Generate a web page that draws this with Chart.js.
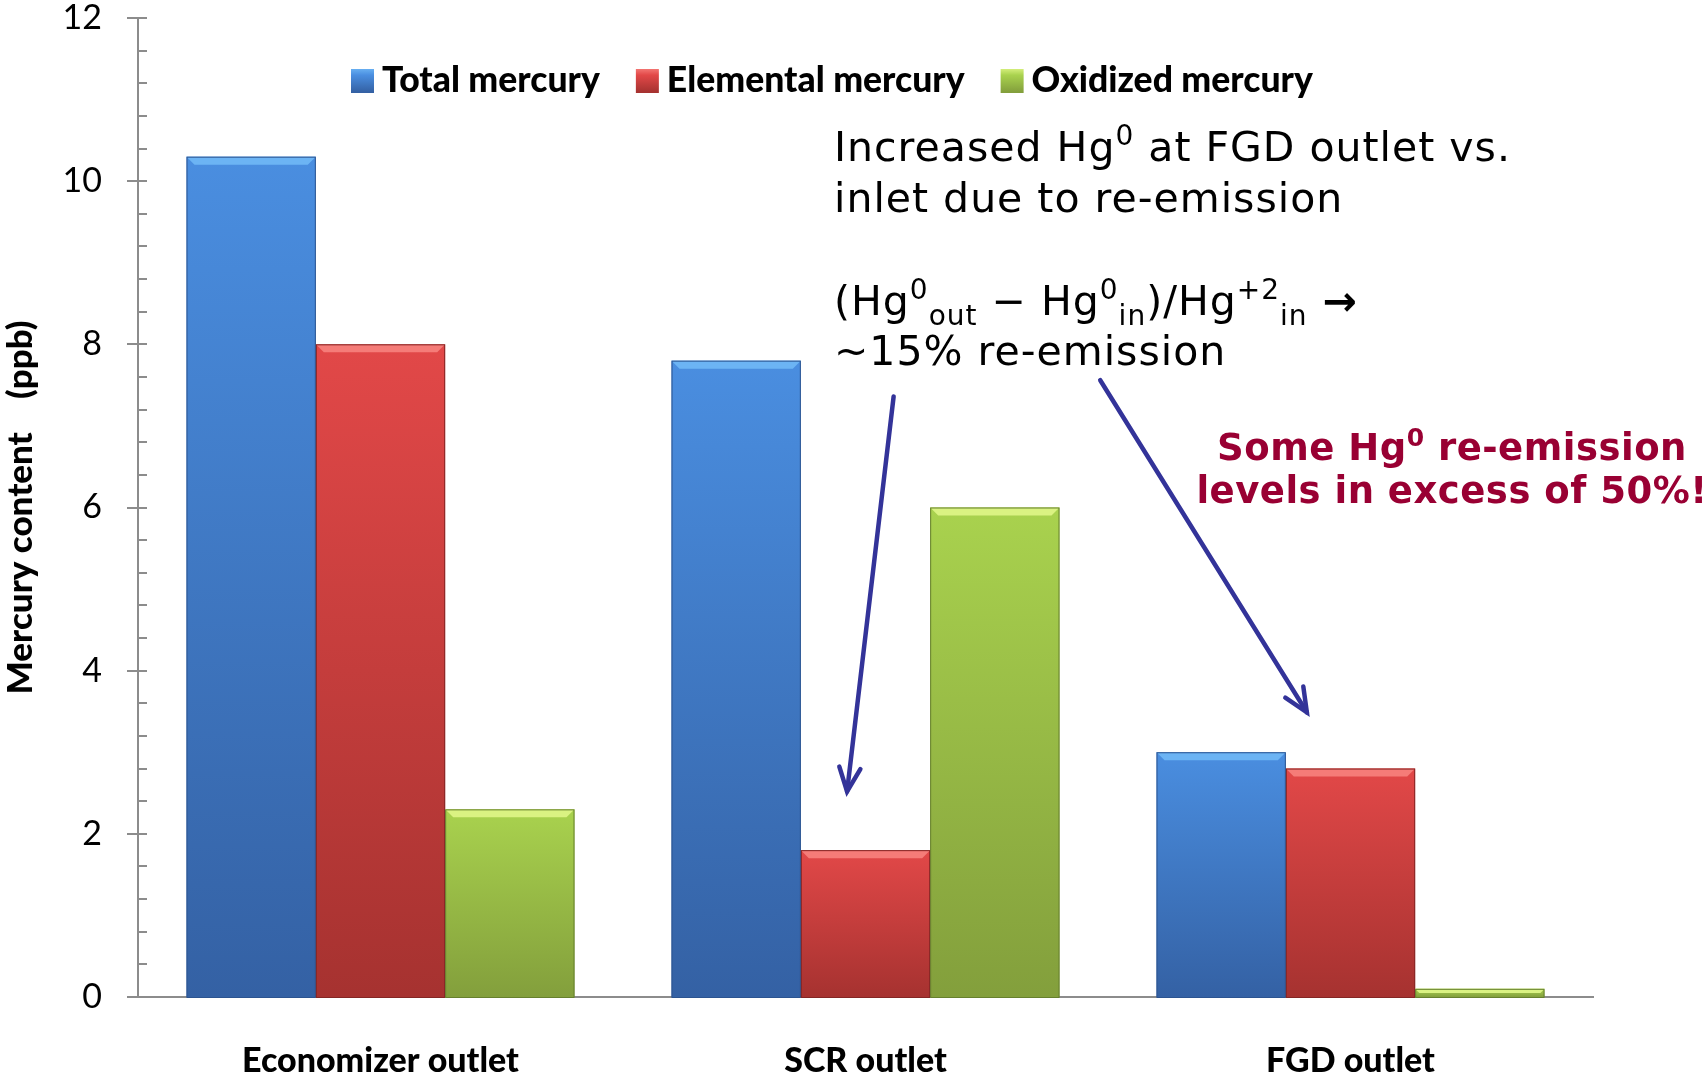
<!DOCTYPE html>
<html>
<head>
<meta charset="utf-8">
<title>Mercury content by location</title>
<script src="https://cdn.jsdelivr.net/npm/chart.js@4.4.0/dist/chart.umd.min.js"></script>
<style>
  html, body { margin: 0; padding: 0; background: #fff; }
  #wrap { width: 1705px; height: 1078px; }
</style>
</head>
<body>
<div id="wrap"><canvas id="chart" width="1705" height="1078"></canvas></div>
<script>
// ---------------------------------------------------------------------------
// Data (ppb)
// ---------------------------------------------------------------------------

const categories = ["Economizer outlet", "SCR outlet", "FGD outlet"];
const totalMercury = [10.3, 7.8, 3.0];
const elementalMercury = [8.0, 1.8, 2.8];
const oxidizedMercury = [2.3, 6.0, 0.1];
const seriesNames = ["Total mercury", "Elemental mercury", "Oxidized mercury"];
const yTicks = { min: 0, max: 12, step: 2, minorStep: 0.4 };

// colours per series: top of bar, bottom of bar, bevel highlight, edge
const palette = [
  { top: "#4a8ee0", bottom: "#3461a4", light: "#6cb4f4", edge: "#2c5490" },
  { top: "#e24848", bottom: "#a63230", light: "#f57c78", edge: "#842624" },
  { top: "#a9d24e", bottom: "#839f3c", light: "#daf282", edge: "#66802e" },
];

const AXIS_GREY = "#8c8c8c";
const NOTE_BLUE = "#333399";
const NOTE_RED = "#990033";

// ---------------------------------------------------------------------------
// Bar fill: vertical gradient per bar, computed from the bar's own value
// ---------------------------------------------------------------------------

function barGradient(seriesIndex) {
  return (ctx) => {
    const chart = ctx.chart;
    const yScale = chart.scales.y;
    const c = palette[seriesIndex];
    if (!yScale || !ctx.parsed) return c.top;
    const top = yScale.getPixelForValue(ctx.parsed.y);
    const bottom = yScale.getPixelForValue(0);
    if (!isFinite(top) || !isFinite(bottom) || bottom - top < 1) return c.top;
    const g = chart.ctx.createLinearGradient(0, top, 0, bottom);
    g.addColorStop(0, c.top);
    g.addColorStop(1, c.bottom);
    return g;
  };
}

// ---------------------------------------------------------------------------
// Plugins: bevel on bar tops, axis ticks, legend, annotations
// ---------------------------------------------------------------------------

const bevelPlugin = {
  id: "bevel",
  afterDatasetsDraw(chart) {
    const ctx = chart.ctx;
    chart.data.datasets.forEach((ds, di) => {
      const c = palette[di];
      chart.getDatasetMeta(di).data.forEach(bar => {
        const h = bar.base - bar.y;
        const left = bar.x - bar.width / 2;
        const right = bar.x + bar.width / 2;
        const b = Math.min(8, h / 2);
        ctx.save();
        ctx.fillStyle = c.light;
        ctx.beginPath();
        ctx.moveTo(left, bar.y);
        ctx.lineTo(right, bar.y);
        ctx.lineTo(right - b, bar.y + b);
        ctx.lineTo(left + b, bar.y + b);
        ctx.closePath();
        ctx.fill();
        ctx.strokeStyle = c.edge;
        ctx.lineWidth = 1;
        ctx.strokeRect(left + 0.5, bar.y + 0.5, bar.width - 1, h);
        ctx.restore();
      });
    });
  },
};

const tickPlugin = {
  id: "yTicks",
  afterDraw(chart) {
    const y = chart.scales.y;
    const ctx = chart.ctx;
    const x0 = chart.chartArea.left;
    ctx.save();
    ctx.strokeStyle = AXIS_GREY;
    ctx.lineWidth = 2;
    const n = Math.round((yTicks.max - yTicks.min) / yTicks.minorStep);
    for (let i = 0; i <= n; i++) {
      const v = yTicks.min + i * yTicks.minorStep;
      const py = Math.round(y.getPixelForValue(v));
      const major = Math.abs(v / yTicks.step - Math.round(v / yTicks.step)) < 1e-6;
      ctx.beginPath();
      ctx.moveTo(major ? x0 - 11 : x0, py);
      ctx.lineTo(x0 + 9, py);
      ctx.stroke();
    }
    ctx.restore();
  },
};

const legendPlugin = {
  id: "insideLegend",
  afterDraw(chart) {
    const ctx = chart.ctx;
    ctx.save();
    ctx.font = "900 35.5px Lato";
    ctx.textBaseline = "middle";
    let x = 351;
    const cy = 80;
    seriesNames.forEach((name, i) => {
      const c = palette[i];
      const g = ctx.createLinearGradient(0, cy - 12, 0, cy + 12);
      g.addColorStop(0, c.light);
      g.addColorStop(0.3, c.top);
      g.addColorStop(1, c.bottom);
      ctx.fillStyle = g;
      ctx.fillRect(x, cy - 11, 23, 24);
      ctx.fillStyle = "#000";
      ctx.fillText(name, x + 31, cy + 1);
      x += 31 + ctx.measureText(name).width + 36;
    });
    ctx.restore();
  },
};

// draws one line made of plain / superscript / subscript pieces
function drawRich(ctx, x, y, parts, size, weight, align, spacing) {
  const pieceFont = (mode) => `${mode === "b" ? "bold" : weight} ${mode === "sup" || mode === "sub" ? Math.round(size * 0.68) : size}px "DejaVu Sans"`;
  ctx.letterSpacing = (spacing || 0) + "px";
  let total = 0;
  parts.forEach(([t, mode]) => { ctx.font = pieceFont(mode); total += ctx.measureText(t).width; });
  let cx = align === "center" ? x - total / 2 : x;
  ctx.textBaseline = "alphabetic";
  ctx.textAlign = "left";
  parts.forEach(([t, mode]) => {
    ctx.font = pieceFont(mode);
    const dy = mode === "sup" ? -size * 0.38 : mode === "sub" ? size * 0.24 : 0;
    ctx.fillText(t, cx, y + dy);
    cx += ctx.measureText(t).width;
  });
  ctx.letterSpacing = "0px";
}

function drawArrow(ctx, chart, from, to) {
  const xs = chart.scales.x, ys = chart.scales.y;
  const x1 = xs.getPixelForValue(from[0]), y1 = ys.getPixelForValue(from[1]);
  const x2 = xs.getPixelForValue(to[0]), y2 = ys.getPixelForValue(to[1]);
  const ang = Math.atan2(y2 - y1, x2 - x1);
  const head = 26, spread = 0.42;
  ctx.save();
  ctx.strokeStyle = NOTE_BLUE;
  ctx.lineWidth = 4.5;
  ctx.lineCap = "round";
  ctx.lineJoin = "miter";
  ctx.beginPath();
  ctx.moveTo(x1, y1);
  ctx.lineTo(x2, y2);
  ctx.stroke();
  ctx.beginPath();
  ctx.moveTo(x2 - head * Math.cos(ang - spread), y2 - head * Math.sin(ang - spread));
  ctx.lineTo(x2, y2);
  ctx.lineTo(x2 - head * Math.cos(ang + spread), y2 - head * Math.sin(ang + spread));
  ctx.stroke();
  ctx.restore();
}

const notesPlugin = {
  id: "notes",
  afterDraw(chart) {
    const ctx = chart.ctx;
    ctx.save();
    ctx.fillStyle = "#000";
    const s = 41;
    drawRich(ctx, 834, 161, [["Increased Hg", "n"], ["0", "sup"], [" at FGD outlet vs.", "n"]], s, "normal", "left", 1);
    drawRich(ctx, 834, 212, [["inlet due to re-emission", "n"]], s, "normal", "left", 1);
    drawRich(ctx, 834, 315, [
      ["(Hg", "n"], ["0", "sup"], ["out", "sub"], [" \u2212 Hg", "n"], ["0", "sup"], ["in", "sub"],
      [")/Hg", "n"], ["+2", "sup"], ["in", "sub"], [" \u2192", "b"],
    ], s, "normal", "left", 1);
    drawRich(ctx, 834, 365, [["~15% re-emission", "n"]], s, "normal", "left", 1);

    ctx.fillStyle = NOTE_RED;
    drawRich(ctx, 1452, 460, [["Some Hg", "n"], ["0", "sup"], [" re-emission", "n"]], 37, "bold", "center", 0.5);
    drawRich(ctx, 1452, 503, [["levels in excess of 50%!", "n"]], 37, "bold", "center", 0.5);
    ctx.restore();

    // arrows, positioned in category / value units
    drawArrow(ctx, chart, [1.058, 7.36], [0.962, 2.52]);
    drawArrow(ctx, chart, [1.484, 7.56], [1.910, 3.49]);
  },
};

// ---------------------------------------------------------------------------
// Chart
// ---------------------------------------------------------------------------

const seriesValues = [totalMercury, elementalMercury, oxidizedMercury];

new Chart(document.getElementById("chart"), {
  type: "bar",
  data: {
    labels: categories,
    datasets: seriesNames.map((name, i) => ({
      label: name,
      data: seriesValues[i],
      backgroundColor: barGradient(i),
      borderWidth: 0,
      categoryPercentage: 0.8,
      barPercentage: 1.0,
    })),
  },
  options: {
    responsive: false,
    animation: false,
    events: [],
    layout: { autoPadding: false, padding: { left: 0, right: 112, top: 18, bottom: 0 } },
    plugins: { legend: { display: false }, tooltip: { enabled: false } },
    scales: {
      x: {
        grid: { display: false },
        border: { color: AXIS_GREY, width: 2 },
        ticks: { color: "#000", font: { family: "Lato", size: 34, weight: "900" }, padding: 36, maxRotation: 0 },
        afterFit: (scale) => { scale.height = 81; scale.paddingLeft = 0; scale.paddingRight = 0; },
      },
      y: {
        min: yTicks.min,
        max: yTicks.max,
        grid: { display: false, drawTicks: false },
        border: { color: AXIS_GREY, width: 2 },
        ticks: { stepSize: yTicks.step, color: "#000", font: { family: "Lato", size: 34 }, padding: 36 },
        title: {
          display: true,
          text: "Mercury content    (ppb)",
          color: "#000",
          font: { family: "Lato", size: 35, weight: "900" },
          padding: { top: 0, bottom: 0 },
        },
        afterFit: (scale) => { scale.width = 138; scale.paddingTop = 0; scale.paddingBottom = 0; },
      },
    },
  },
  plugins: [bevelPlugin, tickPlugin, legendPlugin, notesPlugin],
});
</script>
</body>
</html>
